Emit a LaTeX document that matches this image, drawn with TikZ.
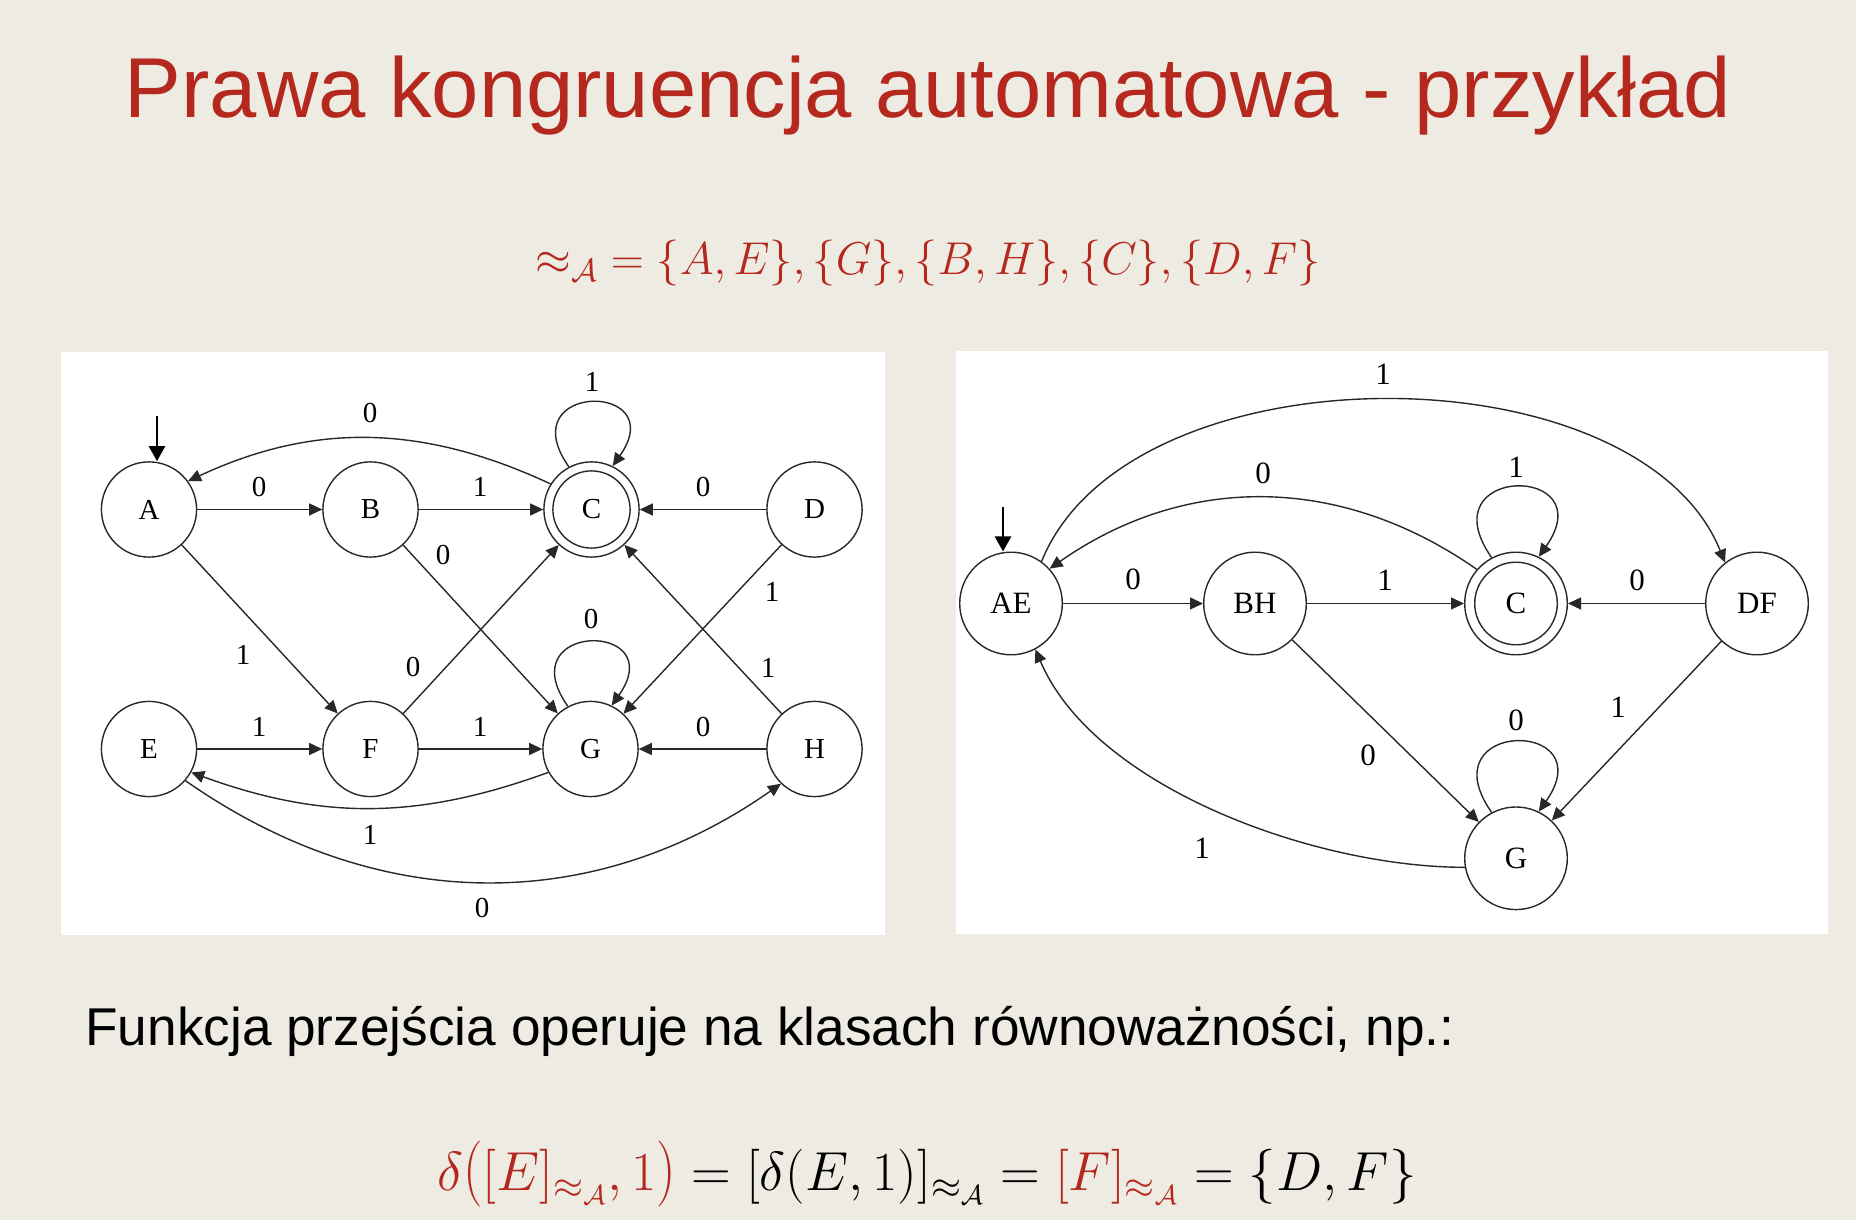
\documentclass[tikz,border=0pt]{standalone}
\usepackage{fix-cm}
\usepackage{graphicx}
\usepackage{fontspec}
\setmainfont{Liberation Serif}
\newfontfamily\slidesans{Liberation Sans}
\usetikzlibrary{arrows.meta}
\definecolor{slidebg}{RGB}{238,235,227}
\definecolor{slidered}{RGB}{180,40,30}
\definecolor{ink}{RGB}{40,40,40}
% taller round brackets for the outer call
\newcommand{\tallopen}{\mathopen{\scalebox{1}[1.2]{$($}}}
\newcommand{\tallclose}{\mathclose{\scalebox{1}[1.2]{$)$}}}

\begin{document}
\begin{tikzpicture}[x=0.5pt,y=0.5pt,
  state/.style={circle, draw=ink, line width=0.7pt, inner sep=0pt,
    minimum size=47.6pt, font=\fontsize{14.5}{17}\selectfont},
  bigstate/.style={state, minimum size=51.3pt, font=\fontsize{15.5}{18}\selectfont},
  trans/.style={draw=ink, line width=0.7pt, -{Triangle[length=6.5pt,width=6pt]}},
  startarrow/.style={draw=black, line width=1.2pt, -{Triangle[length=7.5pt,width=8pt]}},
  lbl/.style={inner sep=0pt, font=\fontsize{14.5}{17}\selectfont},
  biglbl/.style={inner sep=0pt, font=\fontsize{15.5}{18}\selectfont},
  ring/.style={draw=ink, line width=0.7pt}]

% slide background
\fill[slidebg] (0,0) rectangle (1856,1220);
\useasboundingbox (0,0) rectangle (1856,1220);

% headings and formulas
\node[anchor=base, text=slidered, inner sep=0pt,
  font=\slidesans\fontsize{42.5}{50}\selectfont] (title) at (928,1102)
  {Prawa kongruencja automatowa - przykład};
\node[text=slidered, inner sep=0pt, font=\fontsize{23}{28}\selectfont] (cong) at (928,956.5)
  {${\approx_{\mathcal{A}}} = \{A,E\},\{G\},\{B,H\},\{C\},\{D,F\}$};
\node[anchor=base west, inner sep=0pt, font=\slidesans\fontsize{26.6}{32}\selectfont] (desc) at (85,174)
  {Funkcja przejścia operuje na klasach równoważności, np.:};
\node[anchor=base, inner sep=0pt, font=\fontsize{27.5}{33}\selectfont] (example) at (927,30)
  {${\color{slidered}\delta\tallopen[E]_{\approx_{\mathcal{A}}},1\tallclose} = [\delta(E,1)]_{\approx_{\mathcal{A}}} = {\color{slidered}[F]_{\approx_{\mathcal{A}}}} = \{D,F\}$};

% white panels
\fill[white] (61,285) rectangle (885,868);
\fill[white] (956,286) rectangle (1828,869);

% ---- original automaton ----
\node[state] (A) at (149,710.5) {A};
\node[state] (B) at (370.5,710.5) {B};
\node[state] (C) at (591.5,710.5) {C};
\node[state] (D) at (814.5,710.5) {D};
\node[state] (E) at (149,471) {E};
\node[state] (F) at (370.5,471) {F};
\node[state] (G) at (590.5,471) {G};
\node[state] (H) at (814.5,471) {H};
\draw[ring] (C) circle[radius=19.3pt];

\coordinate (sA) at (157,804);
\draw[startarrow] (sA) -- (sA |- A.north);

\draw[trans] (A) -- (B) node[lbl] at (259,733) {0};
\draw[trans] (B) -- (C) node[lbl] at (480,733) {1};
\draw[trans] (D) -- (C) node[lbl] at (703,733) {0};
\draw[trans] (C.118) .. controls +(125:104) and +(55:104) .. (C.64) node[lbl] at (592,838) {1};
\draw[trans] (C.148) .. controls +(155:140) and +(25:140) .. (A.36) node[lbl] at (370,807) {0};
\draw[trans] (A) -- (F) node[lbl] at (243,565) {1};
\draw[trans] (B) -- (G) node[lbl] at (443,665) {0};
\draw[trans] (F) -- (C) node[lbl] at (413,553) {0};
\draw[trans] (D) -- (G) node[lbl] at (772,628) {1};
\draw[trans] (H) -- (C) node[lbl] at (768,552) {1};
\draw[trans] (E) -- (F) node[lbl] at (259,493) {1};
\draw[trans] (F) -- (G) node[lbl] at (480,493) {1};
\draw[trans] (H) -- (G) node[lbl] at (703,493) {0};
\draw[trans] (G.118) .. controls +(125:104) and +(55:104) .. (G.64) node[lbl] at (591,601) {0};
\draw[trans] (G.209) .. controls +(200:139) and +(340:139) .. (E.331) node[lbl] at (370,385) {1};
\draw[trans] (E.319) .. controls +(325:232) and +(215:232) .. (H.226) node[lbl] at (482,312) {0};

% ---- quotient automaton ----
\node[bigstate] (AE) at (1011,616.5) {AE};
\node[bigstate] (BH) at (1255,616.5) {BH};
\node[bigstate] (Cq) at (1516,616.5) {C};
\node[bigstate] (DF) at (1757,616.5) {DF};
\node[bigstate] (Gq) at (1516,361.7) {G};
\draw[ring] (Cq) circle[radius=20.65pt];

\coordinate (sAE) at (1003,713.3);
\draw[startarrow] (sAE) -- (sAE |- AE.north);

\draw[trans] (AE) -- (BH) node[biglbl] at (1133,641) {0};
\draw[trans] (BH) -- (Cq) node[biglbl] at (1385,640) {1};
\draw[trans] (DF) -- (Cq) node[biglbl] at (1637,640) {0};
\draw[trans] (Cq.118) .. controls +(125:114) and +(55:114) .. (Cq.64) node[biglbl] at (1516,753) {1};
\draw[trans] (Cq.139) .. controls +(145:166) and +(35:166) .. (AE.42) node[biglbl] at (1263,747) {0};
\draw[trans] (AE.54) .. controls +(68:233) and +(112:233) .. (DF.128) node[biglbl] at (1383,846) {1};
\draw[trans] (BH) -- (Gq) node[biglbl] at (1368,465) {0};
\draw[trans] (DF) -- (Gq) node[biglbl] at (1618,513) {1};
\draw[trans] (Gq.118) .. controls +(125:114) and +(55:114) .. (Gq.64) node[biglbl] at (1516,500) {0};
\draw[trans] (Gq.190) .. controls +(180:150) and +(293:150) .. (AE.298) node[biglbl] at (1202,372) {1};

\end{tikzpicture}
\end{document}
